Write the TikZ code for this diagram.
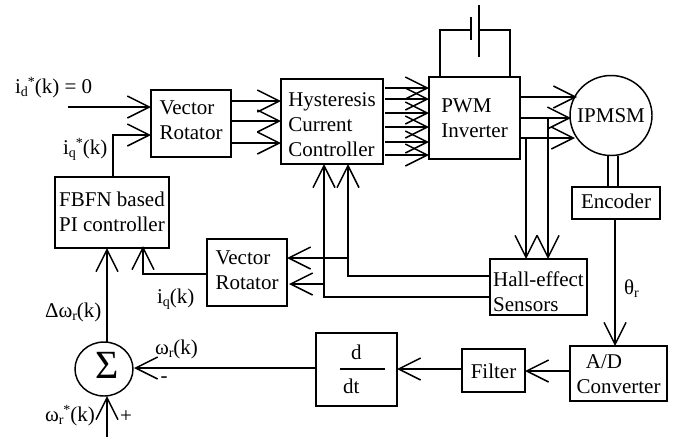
\documentclass[tikz,border=0pt]{standalone}
\usepackage{fontspec}
\setmainfont{Liberation Serif}
\usetikzlibrary{arrows.meta,calc,shapes.geometric}
\newcommand\lsub[1]{\raisebox{-2.6pt}{\fontsize{10.5}{10.5}\selectfont #1}}
\newcommand\lsup[1]{\raisebox{5pt}{\fontsize{10.5}{10.5}\selectfont #1}}
\tikzset{
  blk/.style={draw=black,line width=1.1pt,inner sep=0pt,outer sep=0pt,align=left},
  lbl/.style={inner sep=0pt,outer sep=0pt,anchor=base west},
  wire/.style={draw=black,line width=1.1pt},
  ar/.style={wire,-{Straight Barb[length=16.5pt,width=16.5pt,line width=1.1pt]}},
}
% name, x1, y1, x2, y2, baseline of last line, text
\newcommand\bx[7]{%
  \pgfmathsetmacro\bxb{(#6-(#3+#5)/2)*1.5}%
  \pgfmathsetmacro\bxh{max(\bxb,0)}%
  \pgfmathsetmacro\bxd{max(-\bxb,0)}%
  \node[blk,text height=\bxh pt,text depth=\bxd pt,minimum width={(#4-#2)*0.75pt},minimum height={(#5-#3)*0.75pt}] (#1) at ({(#2+#4)/2},{(#3+#5)/2}) {#7};}
\begin{document}
\begin{tikzpicture}[x=0.75pt,y=-0.75pt,font=\fontsize{15.75}{18.7}\selectfont]
\useasboundingbox (0,0) rectangle (680,440);
\bx{vra}{151}{90}{231}{157}{139}{Vector\\Rotator}
\bx{fbfn}{55}{177}{169}{248}{231}{FBFN based\\PI controller}
\bx{hcc}{281}{79}{383}{164}{156}{Hysteresis\\Current\\Controller}
\bx{pwm}{429}{77}{520}{159}{137}{PWM\\Inverter}
\bx{enc}{572}{187}{660}{219}{208}{Encoder}
\bx{adc}{570}{346}{667}{401}{393}{\hspace*{7pt}A/D\\Converter}
\bx{flt}{462}{349}{525}{392}{378}{Filter}
\bx{ddt}{316}{333}{397}{406}{375}{}
\bx{hall}{490}{259}{587}{315}{311}{Hall-effect\\Sensors}
\bx{vrb}{207}{239}{287}{306}{289}{Vector\\Rotator}
\node[blk,ellipse,minimum width=61.5pt,minimum height=60pt,label={center:IPMSM}] (ipm) at (611,115.5) {};
\node[blk,ellipse,minimum width=43.5pt,minimum height=40.5pt] (sum) at (104,369) {};
\node[inner sep=0pt,font=\fontsize{30}{30}\selectfont] (sg) at (107,365.5) {Σ};
% labels
\node[lbl] (l1) at (15,93) {i\lsub{d}\lsup{*}(k) = 0};
\node[lbl] (l2) at (63,154) {i\lsub{q}\lsup{*}(k)};
\node[lbl] (l3) at (157,303) {i\lsub{q}(k)};
\node[lbl] (l4) at (45,317) {Δω\lsub{r}(k)};
\node[lbl] (l5) at (155,354) {ω\lsub{r}(k)};
\node[lbl] (l6) at (160.5,382) {-};
\node[lbl] (l7) at (45,421) {ω\lsub{r}\lsup{*}(k)};
\node[lbl] (l8) at (120,422) {+};
\node[lbl] (l9) at (624,294) {θ\lsub{r}};
\node[lbl] (dn) at (351,359) {d};
\node[lbl] (dd) at (343,393) {dt};
\draw[wire] (340,369) -- (385,369);
% inputs to upper rotator
\coordinate (idin) at (68,107);
\draw[ar] (idin) -- (vra.west|-idin);
\draw[ar] (fbfn.north-|113,0) -- (113,135) -- (vra.west|-0,135);
% rotator to hysteresis
\foreach \y in {101,121,143}{\draw[ar] (vra.east|-0,\y) -- (hcc.west|-0,\y);}
% hysteresis to PWM
\foreach \y in {88,99,113,127,142,155}{\draw[ar] ($(hcc.east|-0,\y)+(2,0)$) -- (pwm.west|-0,\y);}
% battery
\coordinate (pa) at (471,17); \coordinate (pb) at (471,40);
\coordinate (pc) at (479,5); \coordinate (pd) at (479,57);
\draw[wire] (pa) -- (pb);
\draw[wire] (pc) -- (pd);
\draw[wire] (pwm.north-|440,0) -- (440,30) -- (471,30);
\draw[wire] (479,30) -- (510,30) -- (pwm.north-|510,0);
% PWM to motor
\draw[ar] (pwm.east|-0,97) -- ($(ipm.west|-0,97)+(7,0)$);
\draw[ar] (pwm.east|-0,118) -- ($(ipm.west|-0,118)+(1,0)$);
\draw[ar] (pwm.east|-0,138) -- ($(ipm.west|-0,138)+(5,0)$);
% PWM lines to Hall sensors
\draw[ar] (526,138) -- (hall.north-|526,0);
\draw[ar] (548,118) -- (hall.north-|548,0);
% motor to encoder
\draw[wire] (ipm.south-|608,0) -- (enc.north-|608,0);
\draw[wire] (ipm.south-|618,0) -- (enc.north-|618,0);
% encoder to ADC
\draw[ar] (enc.south-|615,0) -- (adc.north-|615,0);
% feedback chain
\draw[ar] (adc.west|-0,371) -- (flt.east|-0,371);
\draw[ar] (flt.west|-0,369) -- (ddt.east|-0,369);
\draw[ar] (ddt.west|-0,368) -- ($(sum.east|-0,368)+(1,0)$);
% summation
\draw[ar] (sum.north-|107,0) -- (fbfn.south-|107,0);
\coordinate (wref) at (107,437);
\draw[ar] (wref) -- (sum.south-|wref);
% Hall sensors back to hysteresis
\draw[ar] (hall.west|-0,276) -- (348,276) -- (hcc.south-|348,0);
\draw[ar] (hall.west|-0,297) -- (324,297) -- (hcc.south-|324,0);
\draw[ar] (348,258) -- (vrb.east|-0,258);
\draw[ar] (324,284) -- ($(vrb.east|-0,284)+(2,0)$);
% lower rotator to FBFN
\draw[ar] (vrb.west|-0,274) -- (143,274) -- ($(fbfn.south-|143,0)+(0,-2)$);
\end{tikzpicture}
\end{document}
